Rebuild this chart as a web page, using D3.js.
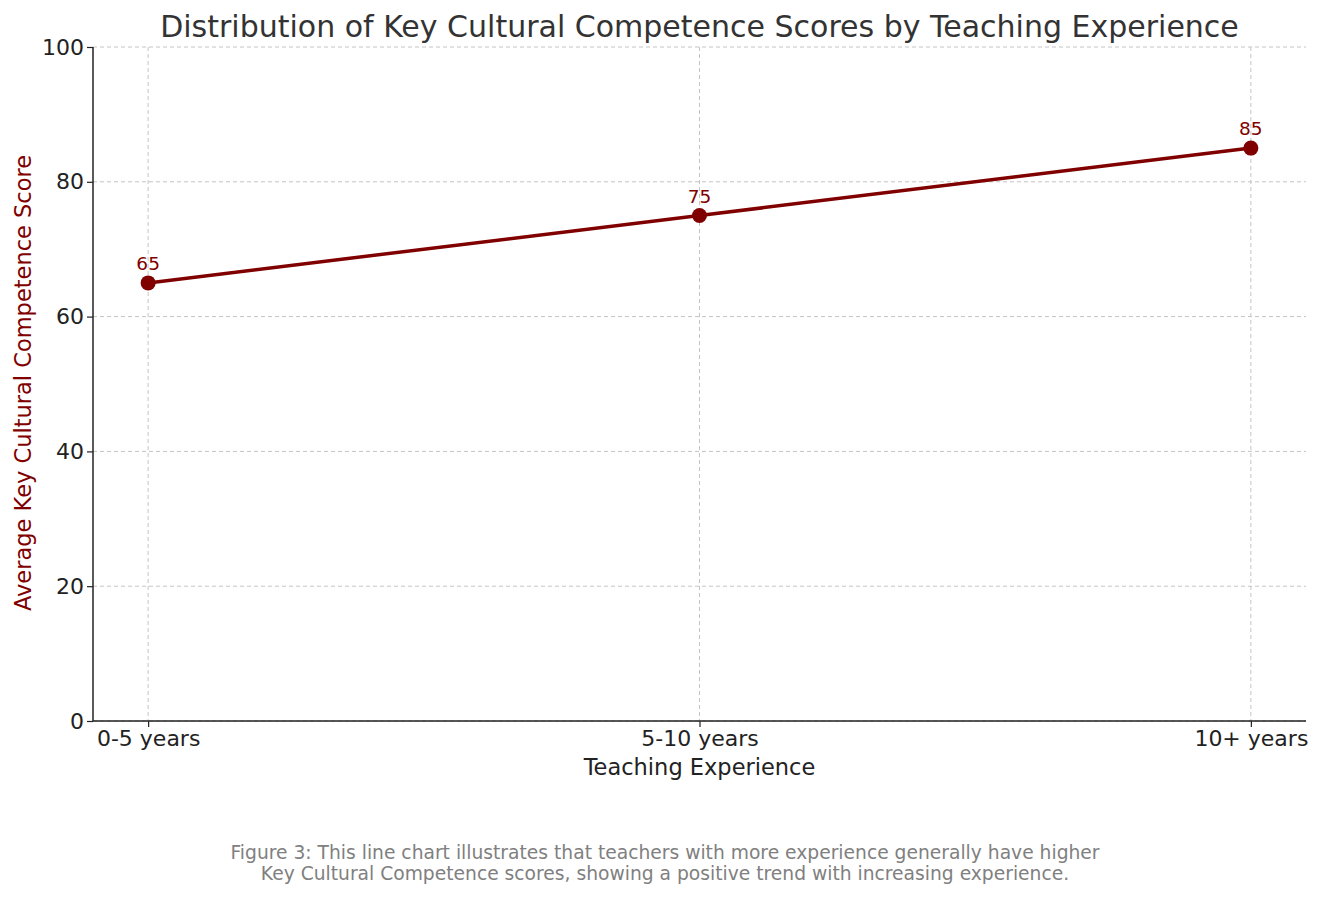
<!DOCTYPE html>
<html><head><meta charset="utf-8">
<script src="https://cdn.jsdelivr.net/npm/d3@7"></script>
<style>body{margin:0;background:#fff;}svg{display:block;font-family:"DejaVu Sans",sans-serif;}</style>
</head><body>
<svg id="chart" width="1322" height="898"></svg>
<script>
const categories = ["0-5 years", "5-10 years", "10+ years"];
const scores = [65, 75, 85];
const yTicks = [0, 20, 40, 60, 80, 100];
const titleText = "Distribution of Key Cultural Competence Scores by Teaching Experience";
const xLabel = "Teaching Experience";
const yLabel = "Average Key Cultural Competence Score";
const caption = ["Figure 3: This line chart illustrates that teachers with more experience generally have higher",
                 "Key Cultural Competence scores, showing a positive trend with increasing experience."];

const svg = d3.select("#chart");
const L = 93, R = 1306, T = 47, B = 721;
const color = "#800000";

const x = d3.scaleLinear().domain([-0.1, categories.length - 1 + 0.1]).range([L, R]);
const y = d3.scaleLinear().domain([0, 100]).range([B, T]);

// grid
const grid = svg.append("g");
grid.selectAll(".hg").data(yTicks).join("line")
  .attr("x1", L).attr("x2", R).attr("y1", d => y(d)).attr("y2", d => y(d))
  .attr("stroke", "#c4c4c4").attr("stroke-width", 1).attr("stroke-dasharray", "4,3");
grid.selectAll(".vg").data(categories).join("line")
  .attr("x1", (d, i) => x(i)).attr("x2", (d, i) => x(i)).attr("y1", T).attr("y2", B)
  .attr("stroke", "#c4c4c4").attr("stroke-width", 1).attr("stroke-dasharray", "4,3");

// axes
const yAxis = d3.axisLeft(y).tickValues(yTicks).tickSize(6).tickPadding(3);
const gy = svg.append("g").attr("transform", `translate(${L},0)`).call(yAxis);
const xAxis = d3.axisBottom(x).tickValues(d3.range(categories.length)).tickFormat(i => categories[i]).tickSize(6).tickPadding(3);
const gx = svg.append("g").attr("transform", `translate(0,${B})`).call(xAxis);
[gx, gy].forEach(g => {
  g.select(".domain").attr("stroke", "#222").attr("stroke-width", 1.5);
  g.selectAll(".tick line").attr("stroke", "#222").attr("stroke-width", 1.2);
  g.selectAll(".tick text").attr("fill", "#222").attr("font-size", 22).attr("font-family", "DejaVu Sans");
});
gy.select(".domain").attr("d", `M0,${B}V${T}`);
gx.select(".domain").attr("d", `M${L},0H${R}`);

// line
const line = d3.line().x((d, i) => x(i)).y(d => y(d));
svg.append("path").datum(scores).attr("d", line)
  .attr("fill", "none").attr("stroke", color).attr("stroke-width", 3.5);
svg.selectAll(".pt").data(scores).join("circle")
  .attr("cx", (d, i) => x(i)).attr("cy", d => y(d)).attr("r", 7.5).attr("fill", color);
svg.selectAll(".lbl").data(scores).join("text")
  .attr("x", (d, i) => x(i)).attr("y", d => y(d) - 13)
  .attr("text-anchor", "middle").attr("font-size", 18.5).attr("fill", color).text(d => d);

// titles
svg.append("text").attr("x", (L + R) / 2).attr("y", 37).attr("text-anchor", "middle")
  .attr("font-size", 30).attr("fill", "#333").text(titleText);
svg.append("text").attr("x", (L + R) / 2).attr("y", 775).attr("text-anchor", "middle")
  .attr("font-size", 22.5).attr("fill", "#222").text(xLabel);
svg.append("text").attr("transform", `translate(31,${(T + B) / 2 - 1}) rotate(-90)`).attr("text-anchor", "middle")
  .attr("font-size", 22.5).attr("fill", color).text(yLabel);
svg.selectAll(".cap").data(caption).join("text")
  .attr("x", 665).attr("y", (d, i) => 859 + i * 21).attr("text-anchor", "middle")
  .attr("font-size", 18.7).attr("fill", "#808080").text(d => d);
</script>
</body></html>
